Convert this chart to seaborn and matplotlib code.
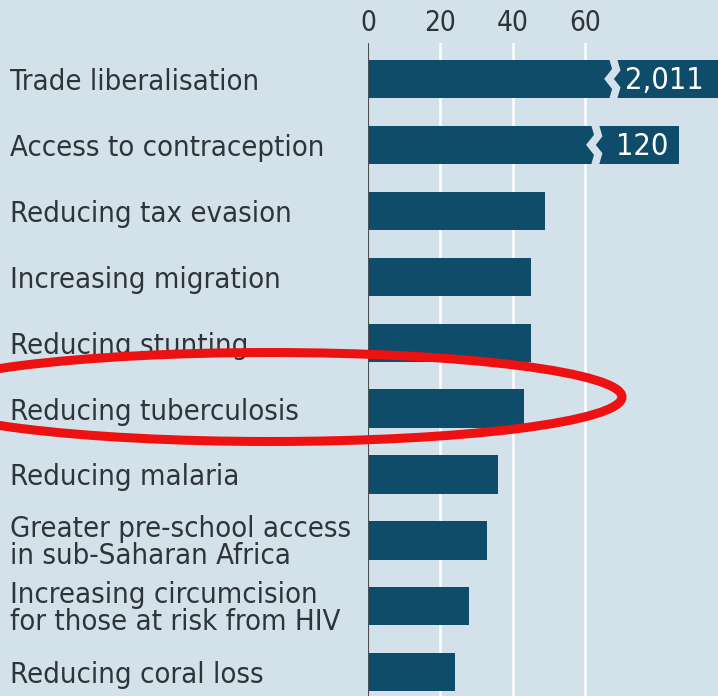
import matplotlib
matplotlib.use("Agg")
import matplotlib.pyplot as plt
from matplotlib.patches import Ellipse
import seaborn as sns
import pandas as pd

# Data
labels = [
    "Trade liberalisation",
    "Access to contraception",
    "Reducing tax evasion",
    "Increasing migration",
    "Reducing stunting",
    "Reducing tuberculosis",
    "Reducing malaria",
    "Greater pre-school access\nin sub-Saharan Africa",
    "Increasing circumcision\nfor those at risk from HIV",
    "Reducing coral loss",
]
values = [2011, 120, 49, 45, 45, 43, 36, 33, 28, 24]
# lengths drawn on the broken scale (off-scale bars end in a labelled box)
bar_lengths = [120, 86, 49, 45, 45, 43, 36, 33, 28, 24]
breaks = {0: 67.5, 1: 62.5}
value_labels = {0: "2,011", 1: "120"}
value_x = {0: 71, 1: 68.5}
ticks = [0, 20, 40, 60]

bg = "#d3e1ea"
bar_color = "#0e4c6a"
text_color = "#2f3438"

sns.set_style("white", {"axes.facecolor": bg, "figure.facecolor": bg})
plt.rcParams["font.family"] = ["DejaVu Sans"]
plt.rcParams["font.stretch"] = "condensed"

df = pd.DataFrame({"label": labels, "length": bar_lengths})

fig = plt.figure(figsize=(7.18, 6.96), dpi=100)
ax = fig.add_axes([368 / 718, 0, 350 / 718, 1 - 43 / 696])

sns.barplot(data=df, x="length", y="label", orient="h", color=bar_color,
            saturation=1, width=0.58, linewidth=0, ax=ax, zorder=3)

ax.set_xlim(0, 96.7)
ax.set_ylim(9.36, -0.545)

# gridlines and zero line
for t in ticks[1:]:
    ax.axvline(t, color="white", lw=1.8, zorder=1)
ax.axvline(0, color="#4a4f52", lw=1.5, zorder=4)

# scale breaks for off-scale bars
h = 0.58
for i, xb in breaks.items():
    top, bot = i - h / 2 - 0.06, i + h / 2 + 0.06
    ys = [top + (bot - top) * f for f in [0, 0.3, 0.5, 0.7, 1]]
    xs = [xb + d for d in [0, 1.1, -0.9, 1.1, 0]]
    ax.plot(xs, ys, color=bg, lw=5.5, zorder=5, solid_joinstyle="miter")
    ax.text(value_x[i], i + 0.03, value_labels[i], color="white", fontsize=22,
            va="center", ha="left", zorder=6)

for s in ax.spines.values():
    s.set_visible(False)

ax.xaxis.tick_top()
ax.set_xticks(ticks)
ax.set_xticklabels([str(t) for t in ticks])
ax.tick_params(axis="x", length=0, pad=4, labelsize=20, colors=text_color)
ax.tick_params(axis="y", length=0, pad=258, labelsize=21, colors=text_color)
for lab in ax.get_yticklabels():
    lab.set_ha("left")
    lab.set_linespacing(0.92)
ax.set_xlabel("")
ax.set_ylabel("")

# red highlight ring around "Reducing tuberculosis"
ring = Ellipse((270 / 718, 1 - 397 / 696), 704 / 718, 89 / 696,
               transform=fig.transFigure, fill=False, edgecolor="#ee1111",
               lw=6.5, zorder=10)
fig.patches.append(ring)

fig.savefig("out.png", dpi=100, facecolor=bg)
